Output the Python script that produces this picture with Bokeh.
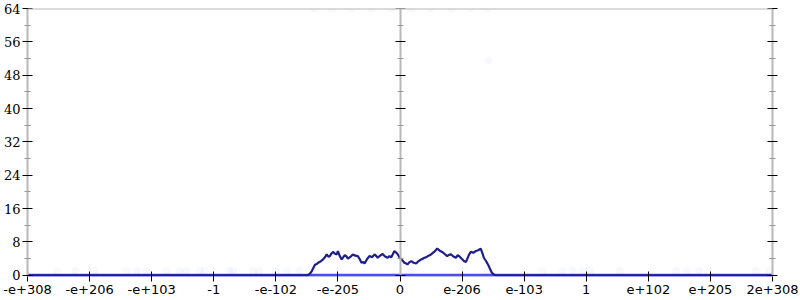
from bokeh.plotting import figure
from bokeh.models import LinearAxis, FixedTicker, Span, Range1d
from bokeh.embed import file_html
from bokeh.resources import INLINE

# ---- data ----
x_ticks = [0, 100, 200, 300, 400, 500, 600, 700, 800, 900, 1000, 1100, 1200]
x_labels = ["-e+308", "-e+206", "-e+103", "-1", "-e-102", "-e-205", "0",
            "e-206", "e-103", "1", "e+102", "e+205", "2e+308"]
y_ticks = [0, 8, 16, 24, 32, 40, 48, 56, 64]
y_minor = [4, 12, 20, 28, 36, 44, 52, 60]

hist_x = [0, 452, 456, 458, 461, 463, 466, 468, 472, 476, 479, 482, 485, 487, 490, 492, 495, 498,
          500, 503, 506, 509, 511, 514, 516, 520, 524, 528, 532, 535, 538, 541, 543, 547, 551, 555, 559,
          562, 564, 568, 572, 576, 580, 583, 586, 589, 591, 594, 596, 599, 602, 605, 607, 610, 612, 615, 618,
          622, 626, 630, 634, 638, 642, 646, 650, 655, 660, 664, 668, 672, 676, 679, 682, 686, 690, 693, 695,
          699, 703, 706, 708, 711, 714, 718, 722, 726, 730, 733, 735, 739, 743, 746, 748, 751, 754, 1200]
hist_y = [0, 0, 0.6, 1.0, 1.9, 2.5, 2.7, 3.0, 3.3, 3.8, 4.3, 5.0, 4.4, 4.6, 5.3, 5.6, 5.2, 5.0,
          5.8, 4.6, 3.8, 4.4, 4.8, 4.5, 4.0, 4.4, 5.0, 4.7, 4.6, 3.9, 3.0, 3.2, 2.8, 3.9, 4.6, 4.3, 5.0,
          4.6, 4.2, 4.7, 5.1, 4.5, 4.2, 4.6, 4.3, 5.2, 5.8, 5.4, 5.1, 4.3, 3.8, 3.4, 3.0, 2.8, 2.6, 3.1, 3.4,
          3.0, 2.8, 3.4, 3.8, 4.1, 4.3, 4.7, 5.0, 5.6, 6.4, 5.9, 5.6, 5.1, 4.6, 4.9, 5.0, 4.5, 4.2, 4.8, 4.6,
          4.0, 3.4, 3.2, 3.8, 4.9, 5.6, 5.4, 5.8, 6.0, 6.4, 5.2, 4.2, 3.3, 2.2, 1.2, 0.6, 0.2, 0, 0]

base_x = [0, 1200]
base_y = [0, 0]

dots_x = [48, 77, 107, 160, 176, 192, 224, 245, 256, 277, 285, 325, 331, 363, 373,
          400, 418, 438, 618, 741, 830, 862, 878, 894, 906, 954, 1045, 1062, 1082,
          1173, 1194,
          461, 490, 522, 554, 586, 618, 650, 682, 714, 741, 742]
dots_y = [1] * 31 + [64] * 10 + [51.5]

X_MAX = 1200
Y_MAX = 64

p = figure(width=800, height=300, x_range=Range1d(0, X_MAX), y_range=Range1d(-0.3, Y_MAX),
           output_backend="svg", toolbar_location=None,
           x_axis_type=None, y_axis_type=None,
           min_border_left=24, min_border_right=28, min_border_top=8, min_border_bottom=24)
p.outline_line_color = None
p.xgrid.visible = False
p.ygrid.visible = False
p.background_fill_color = "white"
p.border_fill_color = "white"

AX_GRAY = "#b8b8b8"


def style_y(ax, labels=True):
    ax.ticker = FixedTicker(ticks=y_ticks, minor_ticks=y_minor)
    ax.axis_line_color = AX_GRAY
    ax.axis_line_width = 2
    ax.major_tick_line_color = "black"
    ax.major_tick_in = 5
    ax.major_tick_out = 5
    ax.minor_tick_line_color = "#999999"
    ax.minor_tick_in = 3
    ax.minor_tick_out = 3
    ax.major_label_standoff = 2
    ax.major_label_text_font = "DejaVu Serif"
    ax.major_label_text_font_size = "13px"
    ax.major_label_text_color = "black"
    if not labels:
        ax.major_label_overrides = {t: "" for t in y_ticks}


left = LinearAxis()
style_y(left)
p.add_layout(left, "left")

right = LinearAxis()
style_y(right, labels=False)
p.add_layout(right, "right")

center = LinearAxis(fixed_location=x_ticks[6])
style_y(center, labels=False)
p.add_layout(center, "right")

bottom = LinearAxis()
bottom.ticker = FixedTicker(ticks=x_ticks, minor_ticks=[])
bottom.major_label_overrides = {t: l for t, l in zip(x_ticks, x_labels)}
bottom.axis_line_color = None
bottom.major_tick_line_color = "black"
bottom.major_tick_in = 5
bottom.major_tick_out = 5
bottom.major_label_standoff = 3
bottom.major_label_text_font = "DejaVu Sans"
bottom.major_label_text_font_size = "13px"
bottom.major_label_text_color = "black"
p.add_layout(bottom, "below")

p.add_layout(Span(location=Y_MAX, dimension="width", line_color=AX_GRAY, line_width=2))

p.scatter(dots_x, dots_y, size=8, color="#4a4aff", alpha=0.04, line_color=None)
p.line(base_x, base_y, line_color="#3a3ae8", line_width=3, line_alpha=0.9)
p.line(hist_x, hist_y, line_color="#1e1e8c", line_width=2.2)

open("out.html", "w").write(file_html(p, INLINE))
